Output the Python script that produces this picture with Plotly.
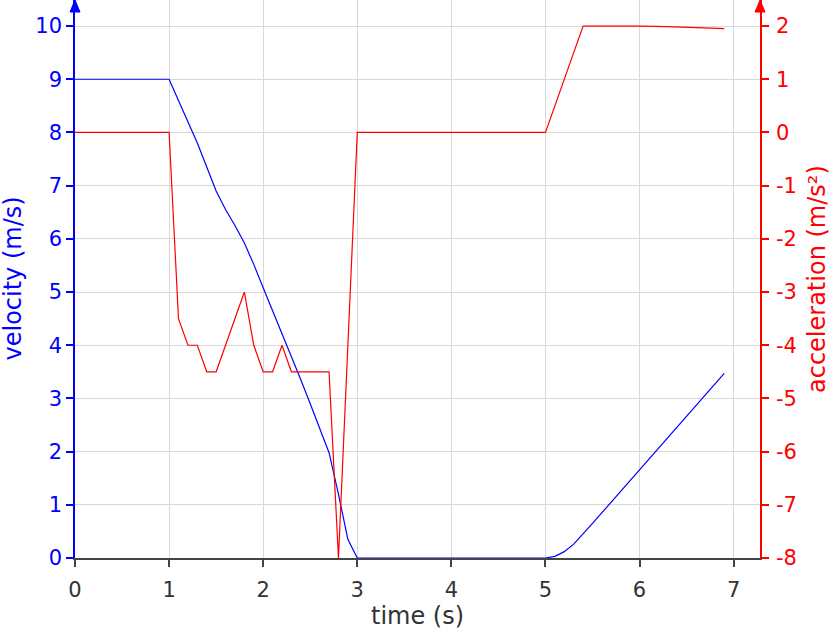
import plotly.graph_objects as go

# velocity (left axis)
vel_t = [0, 1.0, 1.1, 1.2, 1.3, 1.4, 1.5, 1.6, 1.7, 1.8, 1.9, 2.0, 2.1, 2.2, 2.3, 2.4,
         2.5, 2.6, 2.7, 2.8, 2.9, 3.0, 5.0, 5.1, 5.2, 5.3, 5.4, 5.5, 6.9]
vel_v = [9, 9, 8.6, 8.2, 7.8, 7.35, 6.9, 6.55, 6.25, 5.92, 5.52, 5.08, 4.65, 4.22, 3.8, 3.35,
         2.9, 2.45, 1.98, 1.2, 0.35, 0, 0, 0.03, 0.12, 0.26, 0.45, 0.65, 3.47]

# acceleration (right axis)
acc_t = [0, 1.0, 1.1, 1.2, 1.3, 1.4, 1.5, 1.8, 1.9, 2.0, 2.1, 2.2, 2.3, 2.7, 2.8, 3.0,
         5.0, 5.4, 6.0, 6.3, 6.9]
acc_a = [0, 0, -3.5, -4, -4, -4.5, -4.5, -3, -4, -4.5, -4.5, -4, -4.5, -4.5, -8, 0,
         0, 2, 2, 1.99, 1.95]

x_ticks = [0, 1, 2, 3, 4, 5, 6, 7]
vel_ticks = [0, 1, 2, 3, 4, 5, 6, 7, 8, 9, 10]
acc_ticks = [-8, -7, -6, -5, -4, -3, -2, -1, 0, 1, 2]
acc_ticktext = ["-8", "-7", "-6", "-5", "-4", "-3", "-2", "-1", "0", "1", "2"]

x_title = "time (s)"
vel_title = "velocity (m/s)"
acc_title = "acceleration (m/s²)"

BLUE = "#0000ff"
RED = "#ff0000"
GRID = "#d8d8d8"
AXIS = "#444444"
TEXT = "#333333"
FONT = "DejaVu Sans"

fig = go.Figure()
fig.add_trace(go.Scatter(x=vel_t, y=vel_v, mode="lines", line=dict(color=BLUE, width=1.2),
                         yaxis="y", showlegend=False))
fig.add_trace(go.Scatter(x=acc_t, y=acc_a, mode="lines", line=dict(color=RED, width=1.2),
                         yaxis="y2", showlegend=False))

fig.update_layout(
    width=831, height=631,
    margin=dict(l=75, r=71, t=0, b=73, autoexpand=False),
    plot_bgcolor="white", paper_bgcolor="white",
    font=dict(family=FONT, size=21, color=TEXT),
    xaxis=dict(range=[0, 7.28], tickvals=x_ticks, showgrid=True, gridcolor=GRID, gridwidth=1,
               zeroline=False, showline=True, linecolor=AXIS, linewidth=1.5,
               ticks="outside", ticklen=7, tickcolor=AXIS, tickwidth=1.5,
               ticklabelstandoff=5, automargin=False,
               tickfont=dict(size=21, color=TEXT)),
    yaxis=dict(range=[0, 10.49], tickvals=vel_ticks, showgrid=True, gridcolor=GRID, gridwidth=1,
               zeroline=False, showline=True, linecolor=BLUE, linewidth=1.5,
               ticks="outside", ticklen=7, tickcolor=BLUE, tickwidth=1.5, automargin=False,
               tickfont=dict(size=21, color=BLUE)),
    yaxis2=dict(range=[-8, 2.49], tickvals=acc_ticks, ticktext=acc_ticktext, overlaying="y",
                side="right", showgrid=False, zeroline=False, showline=True, linecolor=RED,
                linewidth=1.5, ticks="outside", ticklen=7, tickcolor=RED, tickwidth=1.5,
                ticklabelstandoff=3, automargin=False,
                tickfont=dict(size=21, color=RED)),
)

# axis titles
fig.add_annotation(text=x_title, xref="paper", yref="paper", x=0.5, y=0, yshift=-58,
                   xanchor="center", yanchor="middle", showarrow=False,
                   font=dict(size=24, color=TEXT, family=FONT))
fig.add_annotation(text=vel_title, xref="paper", yref="paper", x=0, y=0.5, xshift=-62.5,
                   xanchor="center", yanchor="middle", textangle=-90, showarrow=False,
                   font=dict(size=24, color=BLUE, family=FONT))
fig.add_annotation(text=acc_title, xref="paper", yref="paper", x=1, y=0.5, xshift=57,
                   xanchor="center", yanchor="middle", textangle=-90, showarrow=False,
                   font=dict(size=24, color=RED, family=FONT))

# axis arrowheads
for xa, col in [(0, BLUE), (1, RED)]:
    fig.add_shape(type="path", xref="paper", yref="paper", xsizemode="pixel", ysizemode="pixel",
                  xanchor=xa, yanchor=1, path="M -5,-12 L 5,-12 L 0,0 Z",
                  fillcolor=col, line=dict(color=col, width=1), layer="above")

fig.write_html("out.html", config={"displayModeBar": False},
               post_script="document.body.style.margin='0';")
